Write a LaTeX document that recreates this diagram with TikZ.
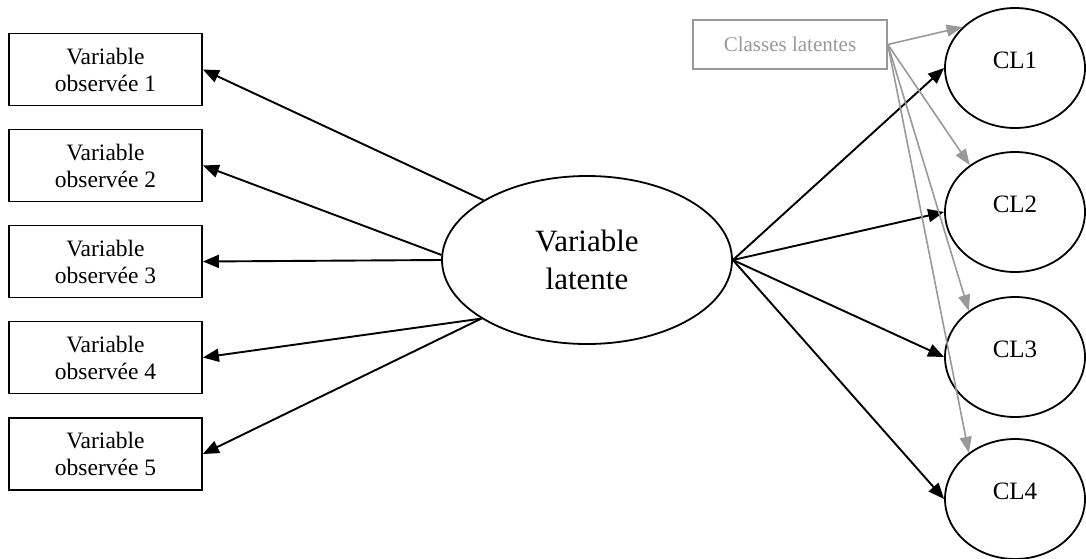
\documentclass[tikz,border=0pt]{standalone}
\usepackage{fontspec}
\setmainfont{Liberation Serif}
\usetikzlibrary{arrows.meta,shapes.geometric}
\definecolor{lightline}{HTML}{999999}
\begin{document}
\begin{tikzpicture}[x=1pt,y=-1pt,
  obsbox/.style={draw,line width=1.8pt,minimum width=193pt,minimum height=72pt,inner sep=0pt,
    align=center,font=\fontsize{23.5}{27}\selectfont},
  latbig/.style={ellipse,draw,line width=1.8pt,minimum width=290pt,minimum height=168pt,inner sep=0pt,
    align=center,font=\fontsize{31}{38}\selectfont},
  clnode/.style={ellipse,draw,line width=1.8pt,minimum width=140pt,minimum height=120pt,inner sep=0pt,
    text depth=16pt,font=\fontsize{25}{30}\selectfont},
  graybox/.style={draw=lightline,line width=1.6pt,minimum width=194pt,minimum height=49pt,inner sep=0pt,
    text=lightline,font=\fontsize{21}{25}\selectfont},
  blackarrow/.style={line width=1.9pt,-{Triangle[length=16pt,width=13pt]}},
  grayarrow/.style={draw=lightline,line width=1.6pt,-{Triangle[length=16pt,width=12pt]},lightline}]
\useasboundingbox (0,0) rectangle (1086,558);

% observed variables
\node[obsbox] (o1) at (105.5,69.5) {Variable\\observée 1};
\node[obsbox] (o2) at (105.5,165.5) {Variable\\observée 2};
\node[obsbox] (o3) at (105.5,261.5) {Variable\\observée 3};
\node[obsbox] (o4) at (105.5,357.5) {Variable\\observée 4};
\node[obsbox] (o5) at (105.5,454) {Variable\\observée 5};

% latent variable
\node[latbig] (lat) at (587,260) {Variable\\latente};

% latent classes
\node[clnode] (c1) at (1015,68) {CL1};
\node[clnode] (c2) at (1015,212) {CL2};
\node[clnode] (c3) at (1015,357) {CL3};
\node[clnode] (c4) at (1015,499) {CL4};

\node[graybox] (cls) at (790,44.5) {Classes latentes};

% loadings
\draw[blackarrow] (lat.150.5) -- (o1.east);
\draw[blackarrow] (lat.178) -- (o2.east);
\draw[blackarrow] (lat.west) -- (o3.east);
\draw[blackarrow] (lat.209.5) -- (o4.east);
\draw[blackarrow] (lat.209.5) -- (o5.east);

\draw[blackarrow] (lat.east) -- (c1.west);
\draw[blackarrow] (lat.east) -- (c2.west);
\draw[blackarrow] (lat.east) -- (c3.west);
\draw[blackarrow] (lat.east) -- (c4.west);

% class labels
\draw[grayarrow] (cls.east) -- (c1.142);
\draw[grayarrow] (cls.east) -- (c2.134);
\draw[grayarrow] (cls.east) -- (c3.135);
\draw[grayarrow] (cls.east) -- (c4.135);
\end{tikzpicture}
\end{document}
